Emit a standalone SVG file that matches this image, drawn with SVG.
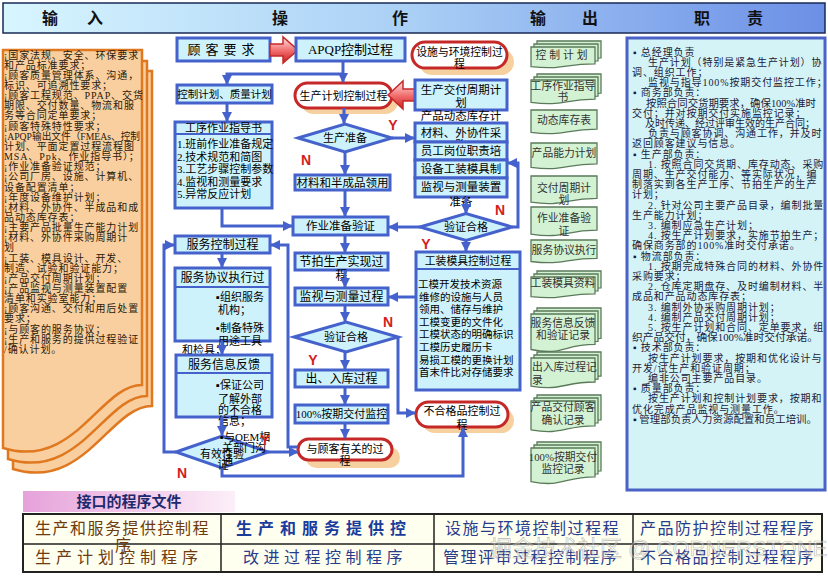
<svg xmlns="http://www.w3.org/2000/svg" width="828" height="578" viewBox="0 0 828 578">
<defs>
<linearGradient id="hdr" x1="0" y1="0" x2="1" y2="0"><stop offset="0" stop-color="#D8F6FF"/><stop offset="0.5" stop-color="#A9CFF5"/><stop offset="1" stop-color="#6C8FE6"/></linearGradient>
<linearGradient id="ra" x1="0" y1="0" x2="0" y2="1"><stop offset="0" stop-color="#FFE4E4"/><stop offset="0.55" stop-color="#F06868"/><stop offset="1" stop-color="#C82020"/></linearGradient>
<linearGradient id="pink" x1="0" y1="0" x2="1" y2="0"><stop offset="0" stop-color="#E6A2DA"/><stop offset="1" stop-color="#FCEFF8"/></linearGradient>
<marker id="ah" viewBox="0 0 10 10" refX="9" refY="5" markerWidth="10" markerHeight="10" markerUnits="userSpaceOnUse" orient="auto"><path d="M0,0 L10,5 L0,10 Z" fill="#4562CC"/></marker>
</defs>
<style>
text{font-family:"Liberation Serif","Noto Sans CJK SC",serif}
.hd{font-size:16px;font-weight:bold;fill:#111;text-anchor:middle}
.lc{font-size:10px;letter-spacing:0.9px;fill:#2a1a0a}
.rc{font-size:10px;letter-spacing:0.9px;fill:#1a1a3a}
.fit{letter-spacing:0}
.bx{fill:#CDF2FB;stroke:#4562CC;stroke-width:3}
.ln{fill:none;stroke:#4562CC;stroke-width:2}
.pl{fill:#FFFFFF;stroke:#C62828;stroke-width:3}
.sh{fill:#F5C88E;opacity:0.85}
.c{font-size:11.5px;fill:#000;text-anchor:middle}
.l{font-size:11px;fill:#000}
.cn{fill:none;stroke:#4562CC;stroke-width:3;marker-end:url(#ah)}
.yn{font-family:"Liberation Sans",sans-serif;font-size:14px;font-weight:bold;fill:#D42020;text-anchor:middle}
.dc{fill:#D3F2D3;stroke:#5A7A5A;stroke-width:1.3}
.o{font-size:10.8px;fill:#333;text-anchor:middle}
.ol{font-size:10.8px;fill:#333}
.ra{fill:url(#ra);stroke:#C62828;stroke-width:1.5}
.or{fill:#F9CFA0;stroke:#E07820;stroke-width:2.5}
.t1{font-size:16px;fill:#6E3B0E;letter-spacing:1.5px}
.t2{font-size:16px;fill:#283C8C;letter-spacing:1.5px}
</style>

<g id="header">
<rect x="3" y="3" width="822" height="30" fill="url(#hdr)" stroke="#1a2a55" stroke-width="1.5"/>
<text class="hd" x="50" y="24">输</text><text class="hd" x="95" y="24">入</text>
<text class="hd" x="280" y="24">操</text><text class="hd" x="400" y="24">作</text>
<text class="hd" x="538" y="24">输</text><text class="hd" x="590" y="24">出</text>
<text class="hd" x="702" y="24">职</text><text class="hd" x="755" y="24">责</text>
</g>

<g id="inputs">
<path class="or" d="M13,71 H152 V406 C110,406 85,491 13,469 Z"/>
<path class="or" d="M8,61 H147 V396 C105,396 80,481 8,459 Z"/>
<path class="or" d="M3,50 H142 V385 C100,385 75,470 3,448 Z"/>
<text class="lc">
<tspan x="4" y="58.5">¡国家法规、安全、环保要求</tspan>
<tspan x="4" y="68.7">和产品标准要求；</tspan>
<tspan x="4" y="78.8">¡顾客质量管理体系、沟通，</tspan>
<tspan x="4" y="89">标识、可追溯性要求；</tspan>
<tspan x="4" y="99.1">¡顾客工程规范、PPAP、交货</tspan>
<tspan x="4" y="109.3">期限、交付数量、物流和服</tspan>
<tspan x="4" y="119.4">务等合同定单要求；</tspan>
<tspan x="4" y="129.6">¡顾客特殊特性要求；</tspan>
<tspan class="fit" x="4" y="139.7" textLength="136" lengthAdjust="spacingAndGlyphs">¡APQP输出文件（FMEAs、控制</tspan>
<tspan x="4" y="149.9">计划、平面定置过程流程图</tspan>
<tspan x="4" y="160">MSA、Ppk、作业指导书）；</tspan>
<tspan x="4" y="170.2">¡作业准备验证规范；</tspan>
<tspan x="4" y="180.3">¡公司厂房、设施、计算机、</tspan>
<tspan x="4" y="190.5">设备配置清单；</tspan>
<tspan x="4" y="200.6">¡年度设备维护计划；</tspan>
<tspan x="4" y="210.8">¡材料、外协件、半成品和成</tspan>
<tspan x="4" y="220.9">品动态库存表；</tspan>
<tspan x="4" y="231.1">¡主要产品批量生产能力计划</tspan>
<tspan x="4" y="241.2">¡材料、外协件采购周期计</tspan>
<tspan x="4" y="251.4">划</tspan>
<tspan x="4" y="261.5">¡工装、模具设计、开发、</tspan>
<tspan x="4" y="271.7">制造、试验和验证能力；</tspan>
<tspan x="4" y="281.8">¡产品交付周期计划；</tspan>
<tspan x="4" y="292">¡产品监视与测量装置配置</tspan>
<tspan x="4" y="302.1">清单和实验室能力；</tspan>
<tspan x="4" y="312.3">¡顾客沟通、交付和用后处置</tspan>
<tspan x="4" y="322.4">要求；</tspan>
<tspan x="4" y="332.6">¡与顾客的服务协议；</tspan>
<tspan x="4" y="342.7">¡生产和服务的提供过程验证</tspan>
<tspan x="4" y="352.9">/确认计划。</tspan>
</text>
</g>

<g id="customer-req"><rect class="bx" x="177" y="38" width="93" height="23"/><text class="c" x="223.5" y="54" style="font-size:13px;letter-spacing:5px">顾客要求</text></g>
<g id="arrow-red-1"><polygon class="ra" points="270,44 283,44 283,37 298,50 283,63 283,56 270,56"/></g>
<g id="apqp"><rect class="bx" x="296" y="38" width="109" height="23"/><text class="c" x="350.5" y="54" style="font-size:13px">APQP控制过程</text></g>
<g id="facility"><rect class="sh" x="419" y="49" width="95" height="26" rx="13"/><rect class="pl" x="412" y="42" width="95" height="26" rx="13"/><text class="c" x="459.5" y="56" style="font-size:10.8px">设施与环境控制过</text><text class="c" x="459.5" y="68" style="font-size:10.8px">程</text></g>
<g id="ctrl-plan"><rect class="bx" x="177" y="85" width="95" height="18"/><text class="c" x="224.5" y="98" style="font-size:10.5px">控制计划、质量计划</text></g>
<g id="prod-plan"><rect class="sh" x="301" y="89" width="97" height="25" rx="12.5"/><rect class="pl" x="295" y="83" width="97" height="25" rx="12.5"/><text class="c" x="343.5" y="100" style="font-size:11px">生产计划控制过程</text></g>
<g id="arrow-red-2"><polygon class="ra" points="417,89 403,89 403,81 388,95 403,109 403,101 417,101"/></g>
<g id="delivery-plan"><rect class="bx" x="415" y="80" width="92" height="30"/><text class="c" x="461" y="94">生产交付周期计</text><text class="c" x="461" y="107">划</text></g>
<g id="prep-stack">
<text class="c" x="461" y="120">产品动态库存计</text>
<rect class="bx" x="415" y="123" width="92" height="19"/><text class="c" x="461" y="137">材料、外协件采</text><text class="c" x="461" y="149">购</text>
<rect class="bx" x="415" y="142" width="92" height="18"/><text class="c" x="461" y="155">员工岗位职责培</text>
<rect class="bx" x="415" y="160" width="92" height="18"/><text class="c" x="461" y="173">设备工装模具制</text>
<rect class="bx" x="415" y="178" width="92" height="19"/><text class="c" x="461" y="191">监视与测量装置</text>
<text class="c" x="461" y="206">准备</text>
</g>
<g id="work-instr"><rect class="bx" x="175" y="122" width="97" height="86"/><line class="ln" x1="175" y1="134" x2="272" y2="134"/>
<text class="c" x="223.5" y="132" style="font-size:11px">工序作业指导书</text>
<text class="l" x="177" y="148">1.班前作业准备规定</text><text class="l" x="177" y="161">2.技术规范和简图</text><text class="l" x="177" y="173">3.工艺步骤控制参数</text><text class="l" x="177" y="186">4.监视和测量要求</text><text class="l" x="177" y="198">5.异常反应计划</text></g>
<g id="prod-ready"><polygon class="bx" points="298,138 345,124 392,138 345,152"/><text class="c" x="345" y="142" style="font-size:11px">生产准备</text></g>
<g id="material-use"><rect class="bx" x="295" y="175" width="95" height="15"/><text class="c" x="342.5" y="187">材料和半成品领用</text></g>
<g id="prep-verify"><rect class="bx" x="293" y="217" width="95" height="18"/><text class="c" x="340.5" y="230">作业准备验证</text></g>
<g id="verify-ok-1"><polygon class="bx" points="420,227 466,213.5 512,227 466,240.5"/><text class="c" x="466" y="231" style="font-size:11px">验证合格</text></g>
<g id="service-ctrl"><rect class="bx" x="175" y="236" width="95" height="17"/><text class="c" x="222.5" y="249" style="font-size:12px">服务控制过程</text></g>
<g id="takt"><rect class="bx" x="295" y="253" width="93" height="17"/><text class="c" x="341.5" y="266" style="font-size:12px">节拍生产实现过</text><text class="c" x="341.5" y="280" style="font-size:12px">程</text></g>
<g id="tooling"><rect class="bx" x="416" y="252" width="104" height="138"/><line class="ln" x1="416" y1="269" x2="520" y2="269"/>
<text class="c" x="468" y="265" style="font-size:10.8px">工装模具控制过程</text>
<text class="l" x="418" y="288" style="font-size:10.5px">工模开发技术资源</text>
<text class="l" x="419" y="300.6" style="font-size:10.5px">维修的设施与人员</text>
<text class="l" x="419" y="313" style="font-size:10.5px">领用、储存与维护</text>
<text class="l" x="419" y="325.8" style="font-size:10.5px">工模变更的文件化</text>
<text class="l" x="419" y="338.4" style="font-size:10.5px">工模状态的明确标识</text>
<text class="l" x="419" y="351" style="font-size:10.5px">工模历史履历卡</text>
<text class="l" x="419" y="363.6" style="font-size:10.5px">易损工模的更换计划</text>
<text class="l" x="419" y="376.2" style="font-size:10.5px">首末件比对存储要求</text></g>
<g id="service-exec"><rect class="bx" x="175" y="268" width="95" height="73"/><line class="ln" x1="175" y1="287" x2="270" y2="287"/>
<text class="c" x="222.5" y="282" style="font-size:12px">服务协议执行过</text>
<text class="l" x="216" y="301">▪组织服务</text><text class="l" x="218" y="314">机构；</text>
<text class="l" x="216" y="332">▪制备特殊</text><text class="l" x="218" y="345">用途工具</text>
<text class="l" x="182" y="354">和检具；</text></g>
<g id="monitor"><rect class="bx" x="295" y="288" width="93" height="17"/><text class="c" x="341.5" y="301" style="font-size:12px">监视与测量过程</text></g>
<g id="verify-ok-2"><polygon class="bx" points="294,337 346,322 398,337 346,352"/><text class="c" x="346" y="341" style="font-size:11px">验证合格</text></g>
<g id="service-feedback"><rect class="bx" x="176" y="355" width="96" height="62"/><line class="ln" x1="176" y1="373" x2="272" y2="373"/>
<text class="c" x="224" y="369" style="font-size:12px">服务信息反馈</text>
<text class="l" x="216" y="389">▪保证公司</text><text class="l" x="218" y="403">了解外部</text><text class="l" x="218" y="414">的不合格</text><text class="l" x="218" y="425">信息；</text></g>
<g id="stock"><rect class="bx" x="295" y="370" width="93" height="17"/><text class="c" x="341.5" y="383" style="font-size:12px">出、入库过程</text></g>
<g id="ontime"><rect class="bx" x="295" y="405" width="93" height="18"/><text class="c" x="341.5" y="418" style="font-size:11px">100%按期交付监控</text></g>
<g id="nonconform"><rect class="sh" x="422" y="408" width="92" height="25" rx="12.5"/><rect class="pl" x="416" y="402" width="92" height="25" rx="12.5"/><text class="c" x="462" y="415" style="font-size:11px">不合格品控制过</text><text class="c" x="462" y="429" style="font-size:11px">程</text></g>
<g id="customer-proc"><rect class="sh" x="306" y="447" width="94" height="21" rx="10.5"/><rect class="pl" x="298" y="439" width="94" height="21" rx="10.5"/><text class="c" x="345" y="453" style="font-size:11px">与顾客有关的过</text><text class="c" x="345" y="465" style="font-size:11px">程</text></g>
<g id="effective"><polygon class="bx" points="176,452 222,436 268,452 222,468"/><text class="c" x="222" y="458" style="font-size:11px">有效性验</text><text class="c" x="223" y="469" style="font-size:11px">证</text>
<text class="l" x="220" y="441">▪与OEM相</text><text class="l" x="222" y="452">关部门沟</text><text class="l" x="222" y="465">通</text></g>

<g id="connectors">
<path class="cn" d="M343,61 V82"/>
<path class="cn" d="M343,74 H227 V84"/>
<path class="cn" d="M227,103 V121"/>
<path class="cn" d="M344,108 V123"/>
<path class="cn" d="M345,152 V174"/>
<path class="cn" d="M392,138 H414"/>
<path class="cn" d="M345,190 V216"/>
<path class="cn" d="M222,208 V226 H292"/>
<path class="cn" d="M420,227 H389"/>
<path class="cn" d="M512,227 H518 V163 H508"/>
<path class="cn" d="M466,197 V213"/>
<path class="cn" d="M466,240.5 V251"/>
<path class="cn" d="M345,235 V252"/>
<path class="cn" d="M345,270 V287"/>
<path class="cn" d="M416,297 H389"/>
<path class="cn" d="M345,305 V321"/>
<path class="cn" d="M398,337 V413 H415"/>
<path class="cn" d="M345,352 V369"/>
<path class="cn" d="M345,387 V404"/>
<path class="cn" d="M345,423 V438"/>
<path class="cn" d="M222,253 V267"/>
<path class="cn" d="M222,341 V354"/>
<path class="cn" d="M222,417 V435"/>
<path class="cn" d="M268,452 H298"/>
<path class="cn" d="M222,468 V476 H463 V428"/>
<path class="cn" d="M298,447 H288 V245 H271"/>
<path class="cn" d="M176,452 H164 V245 H174"/>
<text class="yn" x="393" y="130">Y</text>
<text class="yn" x="306" y="165">N</text>
<text class="yn" x="500" y="215">N</text>
<text class="yn" x="426" y="249">Y</text>
<text class="yn" x="388" y="327">N</text>
<text class="yn" x="313" y="365">Y</text>
<text class="yn" x="265" y="445">Y</text>
<text class="yn" x="182" y="478">N</text>
</g>

<g id="outputs">
<path class="dc" d="M537,41 h64 v16.8 c-32,0 -32,6.45 -64,2.81z"/><path class="dc" d="M534,44 h64 v16.8 c-32,0 -32,6.45 -64,2.81z"/><path class="dc" d="M531,47 h64 v16.8 c-32,0 -32,6.45 -64,2.81z"/>
<text class="o" x="563" y="59" style="letter-spacing:3px">控制计划</text>
<path class="dc" d="M537,74 h64 v19.2 c-32,0 -32,7.37 -64,3.22z"/><path class="dc" d="M534,77 h64 v19.2 c-32,0 -32,7.37 -64,3.22z"/><path class="dc" d="M531,80 h64 v19.2 c-32,0 -32,7.37 -64,3.22z"/>
<text class="o" x="563" y="90">工序作业指导</text><text class="o" x="563" y="101">书</text>
<path class="dc" d="M531,110 h66 v19.2 c-33,0 -33,7.37 -66,3.22z"/><text class="o" x="564" y="124">动态库存表</text>
<path class="dc" d="M531,143 h66 v20.8 c-33,0 -33,7.98 -66,3.48z"/><text class="o" x="564" y="157">产品能力计划</text>
<path class="dc" d="M531,176 h66 v22.4 c-33,0 -33,8.6 -66,3.75z"/><text class="o" x="564" y="192">交付周期计</text><text class="o" x="564" y="204">划</text>
<path class="dc" d="M531,207 h66 v23.2 c-33,0 -33,8.9 -66,3.89z"/><text class="o" x="564" y="222">作业准备验</text><text class="o" x="564" y="235">证</text>
<path class="dc" d="M531,240 h66 v18.4 c-33,0 -33,7.06 -66,3.08z"/><text class="o" x="564" y="254">服务协议执行</text>
<path class="dc" d="M537,271 h64 v16.8 c-32,0 -32,6.45 -64,2.81z"/><path class="dc" d="M534,274 h64 v16.8 c-32,0 -32,6.45 -64,2.81z"/><path class="dc" d="M531,277 h64 v16.8 c-32,0 -32,6.45 -64,2.81z"/>
<text class="o" x="563" y="287">工装模具资料</text>
<path class="dc" d="M537,308 h64 v30.4 c-32,0 -32,11.67 -64,5.09z"/><path class="dc" d="M534,311 h64 v30.4 c-32,0 -32,11.67 -64,5.09z"/><path class="dc" d="M531,314 h64 v30.4 c-32,0 -32,11.67 -64,5.09z"/>
<text class="o" x="563" y="327">服务信息反馈</text><text class="o" x="563" y="339">和验证记录</text>
<path class="dc" d="M537,352 h64 v24 c-32,0 -32,9.21 -64,4.02z"/><path class="dc" d="M534,355 h64 v24 c-32,0 -32,9.21 -64,4.02z"/><path class="dc" d="M531,358 h64 v24 c-32,0 -32,9.21 -64,4.02z"/>
<text class="ol" x="532" y="371">出入库过程记</text><text class="ol" x="532" y="384">录</text>
<path class="dc" d="M537,395 h64 v24.8 c-32,0 -32,9.52 -64,4.15z"/><path class="dc" d="M534,398 h64 v24.8 c-32,0 -32,9.52 -64,4.15z"/><path class="dc" d="M531,401 h64 v24.8 c-32,0 -32,9.52 -64,4.15z"/>
<text class="o" x="563" y="411">产品交付顾客</text><text class="o" x="563" y="424">确认记录</text>
<path class="dc" d="M537,442 h64 v28.8 c-32,0 -32,11.05 -64,4.82z"/><path class="dc" d="M534,445 h64 v28.8 c-32,0 -32,11.05 -64,4.82z"/><path class="dc" d="M531,448 h64 v28.8 c-32,0 -32,11.05 -64,4.82z"/>
<text class="o" x="563" y="461">100%按期交付</text><text class="o" x="563" y="473">监控记录</text>
</g>

<g id="duties">
<rect x="627" y="38" width="198" height="452" fill="#D3F3F7" stroke="#4A62C8" stroke-width="3"/>
<text class="rc">
<tspan x="633" y="55.5">▪ 总经理负责</tspan>
<tspan x="648" y="65.7">生产计划（特别是紧急生产计划）协</tspan>
<tspan x="632" y="75.9">调、组织工作；</tspan>
<tspan x="648" y="86.1">监视与指导100%按期交付监控工作；</tspan>
<tspan x="633" y="96.3">▪ 商务部负责：</tspan>
<tspan class="fit" x="646" y="106.5" textLength="170" lengthAdjust="spacingAndGlyphs">按照合同交货期要求，确保100%准时</tspan>
<tspan x="632" y="116.7">交付；并对按期交付实施监控记录；</tspan>
<tspan class="fit" x="645" y="126.9" textLength="170" lengthAdjust="spacingAndGlyphs">及时传递、经过评审生效的生产合同；</tspan>
<tspan x="648" y="137.1">负责与顾客协调、沟通工作，并及时</tspan>
<tspan x="632" y="147.3">返回顾客建议与信息。</tspan>
<tspan x="633" y="157.5">▪ 生产部负责：</tspan>
<tspan x="648" y="167.7">1. 按照合同交货期、库存动态、采购</tspan>
<tspan x="632" y="177.9">周期、生产交付能力、等实际状况，编</tspan>
<tspan x="632" y="188.1">制落实到各生产工序、节拍生产的生产</tspan>
<tspan x="632" y="198.3">计划；</tspan>
<tspan x="648" y="208.5">2. 针对公司主要产品目录，编制批量</tspan>
<tspan x="632" y="218.7">生产能力计划；</tspan>
<tspan x="648" y="228.9">3. 编制应急生产计划；</tspan>
<tspan x="648" y="239.1">4. 按生产计划要求，实施节拍生产；</tspan>
<tspan x="632" y="249.3">确保商务部的100%准时交付承诺。</tspan>
<tspan x="633" y="259.5">▪ 物流部负责：</tspan>
<tspan x="648" y="269.7">1. 按期完成特殊合同的材料、外协件</tspan>
<tspan x="632" y="279.9">采购要求；</tspan>
<tspan x="648" y="290.1">2. 仓库定期盘存、及时编制材料、半</tspan>
<tspan x="632" y="300.3">成品和产品动态库存表；</tspan>
<tspan x="648" y="310.5">3. 编制外协采购周期计划；</tspan>
<tspan x="648" y="320.7">4. 编制产品交付周期计划；</tspan>
<tspan x="648" y="330.9">5. 按生产计划和合同、定单要求，组</tspan>
<tspan class="fit" x="632" y="341.1" textLength="186" lengthAdjust="spacingAndGlyphs">织产品交付，确保100%准时交付承诺。</tspan>
<tspan x="633" y="351.3">▪ 技术部负责：</tspan>
<tspan x="648" y="361.5">按生产计划要求，按期和优化设计与</tspan>
<tspan x="632" y="371.7">开发/试生产和验证周期；</tspan>
<tspan x="648" y="381.9">编非公司主要产品目录。</tspan>
<tspan x="633" y="392.1">▪ 质量部负责：</tspan>
<tspan x="648" y="402.3">按生产计划和控制计划要求，按期和</tspan>
<tspan x="632" y="412.5">优化完成产品监视与测量工作。</tspan>
<tspan class="fit" x="633" y="422.7" textLength="184" lengthAdjust="spacingAndGlyphs">▪ 管理部负责人力资源配置和员工培训。</tspan>
</text>
</g>

<g id="interface">
<rect x="23" y="491" width="212" height="21" fill="url(#pink)"/>
<text x="129" y="507" style="font-size:15px;font-weight:bold;fill:#1E2A6E;text-anchor:middle">接口的程序文件</text>
<rect x="23" y="514" width="799" height="58" fill="#FFFFF0" stroke="#222" stroke-width="2"/>
<path d="M23,544 H822 M221,514 V572 M434,514 V572 M633,514 V572" stroke="#222" stroke-width="1.5" fill="none"/>
<text class="t1" x="35" y="534">生产和服务提供控制程</text>
<text class="t1" x="115" y="551">序</text>
<text class="t2" x="236" y="534" style="font-weight:bold;letter-spacing:6px;fill:#1A3C9C">生产和服务提供控</text>
<text class="t2" x="445" y="534">设施与环境控制过程程</text>
<text class="t2" x="640" y="534">产品防护控制过程程序</text>
<text class="t1" x="35" y="563" style="letter-spacing:5px">生产计划控制程序</text>
<text class="t2" x="243" y="563" style="letter-spacing:4.5px">改进过程控制程序</text>
<text class="t2" x="443" y="563">管理评审过程控制程序</text>
<text class="t2" x="640" y="563">不合格品控制过程程序</text>
<text x="490" y="556" style="font-family:'Liberation Sans','Noto Sans CJK SC',sans-serif;font-size:22px;fill:#FFFFFF;fill-opacity:0.35;stroke:#888;stroke-width:0.6;stroke-opacity:0.6">掘金技术社区 @ CORNERSTONE</text>
</g>
</svg>
